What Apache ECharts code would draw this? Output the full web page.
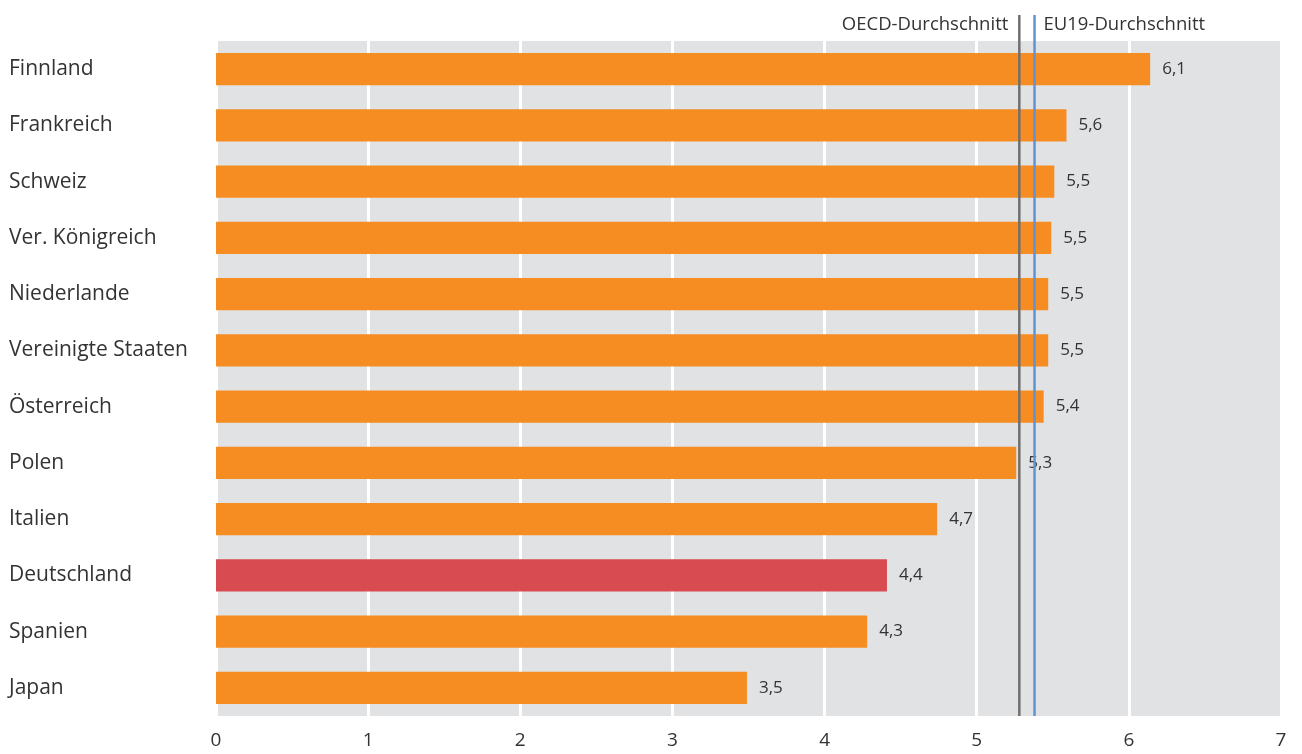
<!DOCTYPE html>
<html>
<head>
<meta charset="utf-8">
<script src="https://cdn.jsdelivr.net/npm/echarts@6/dist/echarts.min.js"></script>
<style>
  html, body { margin: 0; padding: 0; background: #ffffff; }
  #chart { width: 1302px; height: 754px; }
</style>
</head>
<body>
<div id="chart"></div>
<script>
// Länder, von oben nach unten
const countries = ['Finnland', 'Frankreich', 'Schweiz', 'Ver. Königreich', 'Niederlande',
  'Vereinigte Staaten', 'Österreich', 'Polen', 'Italien', 'Deutschland', 'Spanien', 'Japan'];
// Werte je Land
const values = [6.14, 5.59, 5.51, 5.49, 5.47, 5.47, 5.44, 5.26, 4.74, 4.41, 4.28, 3.49];
// Hervorgehobenes Land
const highlight = 'Deutschland';
// Durchschnittswerte
const oecdAvg = 5.28;
const eu19Avg = 5.38;
const avgLabels = ['OECD-Durchschnitt', 'EU19-Durchschnitt'];
// Achsenbereich
const xMin = 0, xMax = 7, xStep = 1;

const FONT = '"Open Sans", "Noto Sans", sans-serif';
const TEXT = '#333333';
const ORANGE = '#f58d22';
const RED = '#d84b51';

const chart = echarts.init(document.getElementById('chart'), null, { renderer: 'canvas' });

const fmt = v => v.toFixed(1).replace('.', ',');

chart.setOption({
  animation: false,
  grid: {
    left: 216, right: 21, top: 41, bottom: 38,
    show: true, backgroundColor: '#e1e2e4', borderWidth: 0
  },
  xAxis: {
    type: 'value', min: xMin, max: xMax, interval: xStep,
    axisLine: { show: false }, axisTick: { show: false },
    splitLine: { show: true, lineStyle: { color: '#ffffff', width: 3 } },
    axisLabel: { color: TEXT, fontFamily: FONT, fontSize: 19, margin: 15,
      showMaxLabel: true, showMinLabel: true }
  },
  yAxis: {
    type: 'category', data: countries, inverse: true,
    axisLine: { show: false }, axisTick: { show: false },
    axisLabel: { color: TEXT, fontFamily: FONT, fontSize: 21, align: 'left', margin: 207 }
  },
  series: [{
    type: 'bar',
    data: values.map((v, i) => ({
      value: v,
      itemStyle: { color: countries[i] === highlight ? RED : ORANGE }
    })),
    barWidth: '57%',
    label: {
      show: true, position: 'right', distance: 12,
      color: TEXT, fontFamily: FONT, fontSize: 17,
      formatter: p => fmt(p.value)
    }
  }]
});

// Durchschnittslinien mit Beschriftung oberhalb der Zeichenfläche
function drawAverages() {
  const top = 15;
  const bottom = 716;
  const xo = chart.convertToPixel({ xAxisIndex: 0 }, oecdAvg);
  const xe = chart.convertToPixel({ xAxisIndex: 0 }, eu19Avg);
  chart.setOption({
    graphic: [
      { type: 'line', z: 10, shape: { x1: xo, y1: top, x2: xo, y2: bottom },
        style: { stroke: '#6f6f6f', lineWidth: 2.5 } },
      { type: 'line', z: 10, shape: { x1: xe, y1: top, x2: xe, y2: bottom },
        style: { stroke: '#5f93d3', lineWidth: 2.5 } },
      { type: 'text', z: 10, x: xo - 11, y: 25,
        style: { text: avgLabels[0], fill: TEXT, font: '18.5px ' + FONT,
          align: 'right', verticalAlign: 'middle' } },
      { type: 'text', z: 10, x: xe + 9, y: 25,
        style: { text: avgLabels[1], fill: TEXT, font: '18.5px ' + FONT,
          align: 'left', verticalAlign: 'middle' } }
    ]
  });
}
drawAverages();
</script>
</body>
</html>
